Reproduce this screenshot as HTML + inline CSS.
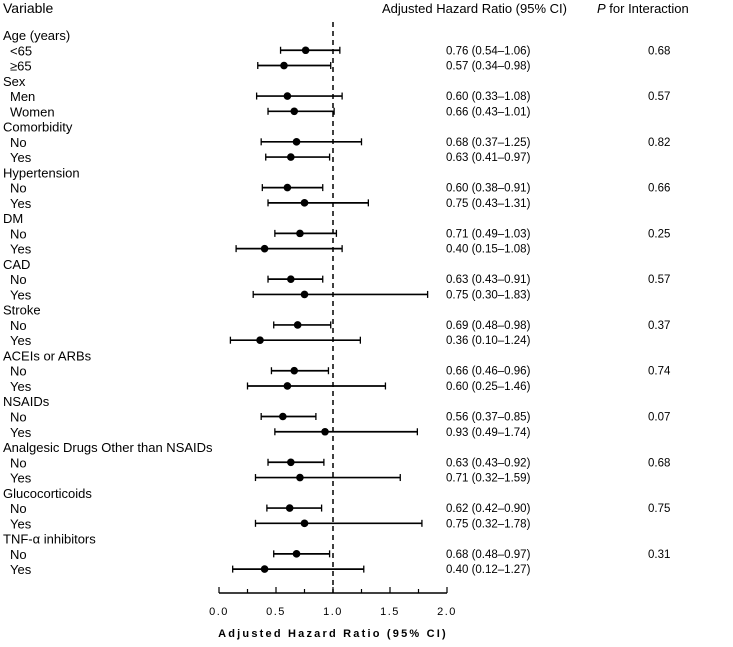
<!DOCTYPE html>
<html><head><meta charset="utf-8"><style>
body{margin:0;background:#fff;font-family:"Liberation Sans",Arial,sans-serif}
svg text{font-family:"Liberation Sans",Arial,sans-serif;fill:#000}
</style></head><body>
<svg id="c" width="733" height="642"></svg>
<script>
const labels=["Age (years)","<65","≥65","Sex","Men","Women","Comorbidity","No","Yes","Hypertension","No","Yes","DM","No","Yes","CAD","No","Yes","Stroke","No","Yes","ACEIs or ARBs","No","Yes","NSAIDs","No","Yes","Analgesic Drugs Other than NSAIDs","No","Yes","Glucocorticoids","No","Yes","TNF-α inhibitors","No","Yes"];
const hr=[null,0.76,0.57,null,0.60,0.66,null,0.68,0.63,null,0.60,0.75,null,0.71,0.40,null,0.63,0.75,null,0.69,0.36,null,0.66,0.60,null,0.56,0.93,null,0.63,0.71,null,0.62,0.75,null,0.68,0.40];
const lo=[null,0.54,0.34,null,0.33,0.43,null,0.37,0.41,null,0.38,0.43,null,0.49,0.15,null,0.43,0.30,null,0.48,0.10,null,0.46,0.25,null,0.37,0.49,null,0.43,0.32,null,0.42,0.32,null,0.48,0.12];
const hi=[null,1.06,0.98,null,1.08,1.01,null,1.25,0.97,null,0.91,1.31,null,1.03,1.08,null,0.91,1.83,null,0.98,1.24,null,0.96,1.46,null,0.85,1.74,null,0.92,1.59,null,0.90,1.78,null,0.97,1.27];
const pvals=[null,"0.68",null,null,"0.57",null,null,"0.82",null,null,"0.66",null,null,"0.25",null,null,"0.57",null,null,"0.37",null,null,"0.74",null,null,"0.07",null,null,"0.68",null,null,"0.75",null,null,"0.31",null];
const ticks=[0,0.5,1.0,1.5,2.0];
const tickLabels=["0.0","0.5","1.0","1.5","2.0"];
const NS="http://www.w3.org/2000/svg",svg=document.getElementById('c');
const x=v=>219+114*v, y=i=>35+i*15.26;
function el(t,a,txt){const e=document.createElementNS(NS,t);for(const k in a)e.setAttribute(k,a[k]);if(txt!=null)e.textContent=txt;svg.appendChild(e);return e;}
let e;
e=el('text',{x:3,y:13,'font-size':14},'Variable');


e=el('text',{x:382,y:13,'font-size':13},'Adjusted Hazard Ratio (95% CI)');


e=el('text',{x:597,y:13,'font-size':13});
e.innerHTML='<tspan font-style="italic">P</tspan> for Interaction';


e=el('line',{x1:x(1),x2:x(1),y1:22,y2:593,stroke:'#000','stroke-width':1.5,'stroke-dasharray':'5,4'});


labels.forEach((l,i)=>{
  const sub=hr[i]!=null;
  e=el('text',{x:sub?10:3,y:y(i)+5,'font-size':13},l);
  
  
  if(sub){
    e=el('line',{x1:x(lo[i]),x2:x(hi[i]),y1:y(i),y2:y(i),stroke:'#000','stroke-width':1.7});
    
    
    [lo[i],hi[i]].forEach(v=>{e=el('line',{x1:x(v),x2:x(v),y1:y(i)-3.5,y2:y(i)+3.5,stroke:'#000','stroke-width':1.3});
    
    });
    e=el('circle',{cx:x(hr[i]),cy:y(i),r:3.8,fill:'#000'});
    
    
    e=el('text',{x:446,y:y(i)+4,'font-size':11.5},hr[i].toFixed(2)+' ('+lo[i].toFixed(2)+'–'+hi[i].toFixed(2)+')');
    
    
  }
  if(pvals[i]){e=el('text',{x:648,y:y(i)+4,'font-size':11.5},pvals[i]);
  
  }
});
e=el('line',{x1:x(0),x2:x(2),y1:593,y2:593,stroke:'#000','stroke-width':1.5});


for(let v=0;v<=2.001;v+=0.25){e=el('line',{x1:x(v),x2:x(v),y1:593,y2:Math.abs(v*2-Math.round(v*2))<0.01?587:589,stroke:'#000','stroke-width':1.2});

}
ticks.forEach((v,k)=>{e=el('text',{x:x(v),y:615,'font-size':11,'text-anchor':'middle','letter-spacing':1.5},tickLabels[k]);

});
e=el('text',{x:x(1),y:637,'font-size':11,'font-weight':'bold','text-anchor':'middle','letter-spacing':2.2},'Adjusted Hazard Ratio (95% CI)');


</script>
</body></html>
